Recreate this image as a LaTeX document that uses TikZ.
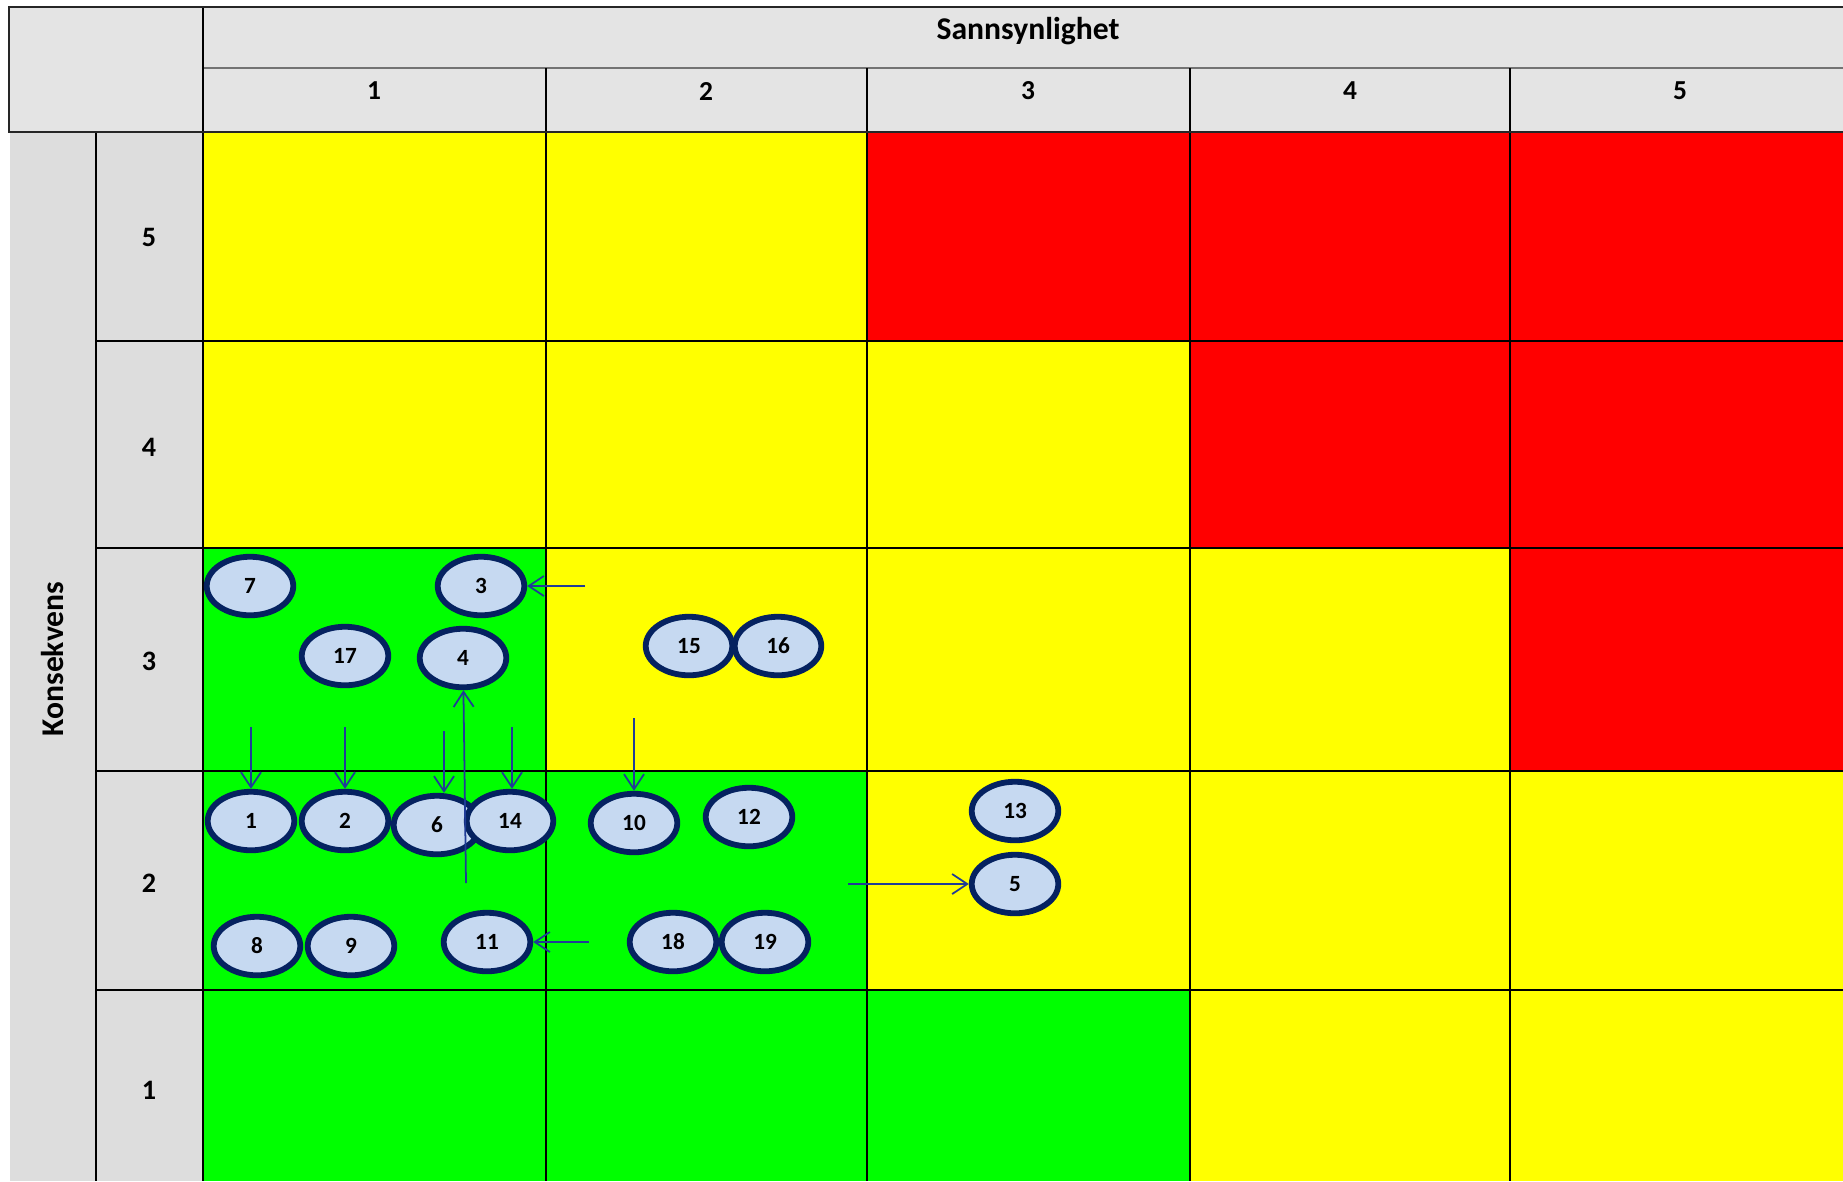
\documentclass[tikz,border=0pt]{standalone}
\usepackage{fontspec}
\setmainfont{Carlito}
\usetikzlibrary{shapes.geometric,arrows.meta}

\definecolor{hodegra}{RGB}{228,228,228}
\definecolor{sidegra}{RGB}{221,221,221}
\definecolor{gul}{RGB}{255,255,0}
\definecolor{rod}{RGB}{255,0,0}
\definecolor{gronn}{RGB}{0,255,0}
\definecolor{fyllblaa}{RGB}{198,217,241}
\definecolor{ringblaa}{RGB}{5,34,96}
\definecolor{pilblaa}{RGB}{32,60,150}

\begin{document}
\begin{tikzpicture}[x=0.01cm,y=-0.01cm,
		risk/.style={ellipse,draw=ringblaa,fill=fyllblaa,line width=1.65pt,
			minimum width=0.865cm,minimum height=0.585cm,inner sep=0pt,
			font=\bfseries\fontsize{6.6}{7}\selectfont},
		pil/.style={draw=pilblaa,line width=0.5pt,-{Straight Barb[length=4.3pt,width=5.7pt]}},
		rute/.style={draw=black,line width=0.45pt},
		overskrift/.style={font=\bfseries\fontsize{9}{10}\selectfont},
		talltopp/.style={font=\bfseries\fontsize{7.8}{8}\selectfont},
		tallside/.style={font=\bfseries\fontsize{8}{9}\selectfont}]
		\useasboundingbox (0,0) rectangle (1843,1181);
		% fargede ruter, rad for rad ovenfra
		\foreach \ya/\yb/\farger in {132/341/{gul,gul,rod,rod,rod},
				341/548/{gul,gul,gul,rod,rod}, 548/771/{gronn,gul,gul,gul,rod},
				771/990/{gronn,gronn,gul,gul,gul}, 990/1181/{gronn,gronn,gronn,gul,gul}}
			\foreach \f [count=\i] in \farger {
				\pgfmathsetmacro{\xa}{{203,546,867,1190,1510}[\i-1]}
				\pgfmathsetmacro{\xb}{{546,867,1190,1510,1850}[\i-1]}
				\fill[\f] (\xa,\ya) rectangle (\xb,\yb);
			}
		% topptekst
		\fill[hodegra] (9,7) rectangle (1850,132);
		\fill[sidegra] (10,132) rectangle (203,1181);
		\draw[rute,black!55] (203,68) -- (1850,68);
		\draw[rute] (203,7) -- (203,132);
		\foreach \x in {546,867,1190,1510}
			\draw[rute] (\x,68) -- (\x,1181);
		\draw[rute] (96,132) -- (96,1181);
		\draw[rute] (203,132) -- (203,1181);
		\foreach \y in {341,548,771,990}
			\draw[rute] (96,\y) -- (1850,\y);
		\draw[line width=0.65pt,black!85] (1850,7) -- (9,7) -- (9,132) -- (1850,132);
		% tekster
		\node[overskrift] (sann) at (1028,31) {Sannsynlighet};
		\node[overskrift,rotate=90] (kons) at (53,659) {Konsekvens};
		\foreach \n/\x in {1/374,2/706,3/1028,4/1350,5/1680}
			\node[talltopp] (p\n) at (\x,91) {\n};
		\foreach \n/\y in {5/237,4/447,3/661,2/883,1/1090}
			\node[tallside] (k\n) at (149,\y) {\n};
		% risikoer
		\foreach \n/\x/\y in {1/251/821, 2/345/821, 3/481/586, 4/463/658,
				5/1015/884, 6/437/825, 7/250/586, 8/257/946, 9/351/946,
				10/634/823, 11/487/942, 12/749/817, 13/1015/811, 14/510/821,
				15/689/646, 16/778/646, 17/345/656, 18/673/942, 19/765/942}
			\node[risk] (r\n) at (\x,\y) {\n};
		% piler
		\coordinate (f1) at (251,727);
		\coordinate (f2) at (345,727);
		\coordinate (f6) at (444,731);
		\coordinate (f14) at (512,727);
		\coordinate (f4) at (466,883);
		\coordinate (f3) at (585,586);
		\coordinate (f10) at (634,718);
		\coordinate (f11) at (589,942);
		\coordinate (f5) at (848,884);
		\draw[pil] (f1) -- (r1);
		\draw[pil] (f2) -- (r2);
		\draw[pil] (f6) -- (f6 |- r6.north);
		\draw[pil] (f14) -- (f14 |- r14.north);
		\draw[pil] (f4) -- (r4);
		\draw[pil] (f3) -- (r3);
		\draw[pil] (f10) -- (r10);
		\draw[pil] (f11) -- (r11);
		\draw[pil] (f5) -- (r5);
	\end{tikzpicture}
\end{document}
